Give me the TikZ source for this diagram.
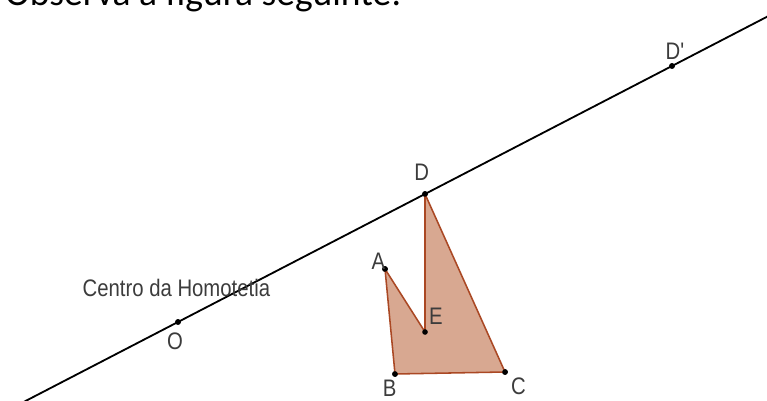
\documentclass[tikz,border=0pt]{standalone}
\usepackage{fontspec}
\usepackage{graphicx}
\usepackage{xcolor}
\usepackage{tikz}
\usetikzlibrary{positioning, calc}

\setmainfont{Liberation Sans}
\newfontfamily\titlefont{Carlito}
\newfontfamily\labelfont{Liberation Sans}

\definecolor{figfill}{RGB}{216,168,145}
\definecolor{figedge}{RGB}{170,72,36}
\definecolor{labelgray}{RGB}{60,60,60}

\newcommand{\lbl}[1]{\scalebox{0.85}[1]{#1}}

\begin{document}
\begin{tikzpicture}[
    axis/.style={draw=black, line width=1.3pt},
    figure/.style={draw=figedge, line width=1.1pt, fill=figfill, line join=round},
    point/.style={circle, fill=black, inner sep=0pt, minimum size=4pt},
    ptlabel/.style={font=\labelfont\fontsize{17}{19}\selectfont, text=labelgray, anchor=base, inner sep=0pt},
    heading/.style={font=\titlefont\fontsize{26.7}{30}\selectfont, anchor=base west, inner sep=0pt}
]

\clip (0,0) rectangle (19.175,10.025);

\node[heading] (title) at (0.12, 9.89) {Observa a figura seguinte:};

% centro e pontos da figura
\node[point] (O) at (4.45, 1.975) {};
\node[point] (D) at (10.625, 5.175) {};
\node[point] (Dl) at (16.8, 8.375) {};
\node[point] (A) at (9.625, 3.3) {};
\node[point] (E) at (10.625, 1.725) {};
\node[point] (B) at (9.875, 0.675) {};
\node[point] (C) at (12.625, 0.725) {};

\draw[axis] ($(O)!-0.8!(D)$) -- ($(O)!2.6!(D)$);

\draw[figure] (A.center) -- (B.center) -- (C.center) -- (D.center) -- (E.center) -- cycle;

\foreach \p in {O, D, Dl, A, E, B, C}
    \node[point] at (\p) {};

\node[ptlabel] (centro) at (4.41, 2.6) {\lbl{Centro da Homotetia}};
\node[ptlabel] (labO) at (4.375, 1.275) {\lbl{O}};
\node[ptlabel] (labD) at (10.54, 5.5) {\lbl{D}};
\node[ptlabel] (labDl) at (16.875, 8.525) {\lbl{D'}};
\node[ptlabel] (labA) at (9.46, 3.275) {\lbl{A}};
\node[ptlabel] (labE) at (10.9, 1.9) {\lbl{E}};
\node[ptlabel] (labB) at (9.74, 0.1) {\lbl{B}};
\node[ptlabel] (labC) at (12.96, 0.15) {\lbl{C}};

\end{tikzpicture}
\end{document}
